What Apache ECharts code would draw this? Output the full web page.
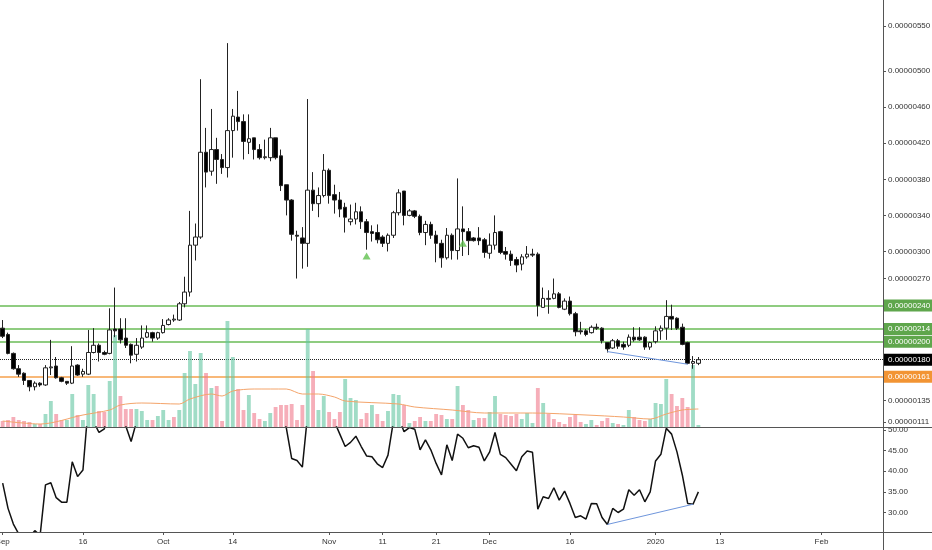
<!DOCTYPE html>
<html>
<head>
<meta charset="utf-8">
<script src="https://cdn.jsdelivr.net/npm/echarts@6/dist/echarts.min.js"></script>
<style>
html, body { margin: 0; padding: 0; background: #fff; }
#chart { width: 932px; height: 550px; }
</style>
</head>
<body>
<div id="chart"></div>
<script>
// prices in satoshi (1e-8), daily candles from 2019-09-01
var opens = [215,208,187,170,165,157,150,154,152,171, 173,160,156,154,174,164,164,188,196,188,
	187,214,214,204,197,186,194,205,210,204, 210,219,224,224,242,255,307,316,410,389,
	413,402,393,434,449,444,421,426,413,404, 404,426,406,374,357,318,315,309,368,353,
	362,390,363,357,349,333,336,344,333,322, 321,316,309,318,343,367,340,345,339,321,
	330,318,309,293,318,301,325,322,315,315, 313,298,307,322,300,297,291,286,294,297,
	297,238,248,248,253,236,245,231,212,212, 210,216,215,199,193,201,197,196,205,205,
	205,194,200,212,215,228,226,216,199,176, 176];
var highs = [224,210,188,174,166,157,156,155,174,202, 183,161,156,195,175,170,213,215,198,190,
	237,260,226,226,198,204,218,218,211,211, 225,226,230,244,272,345,331,491,437,458,
	426,408,531,458,478,452,452,426,419,424, 437,426,413,374,358,323,327,469,388,371,
	408,392,374,366,354,352,354,350,336,329, 330,318,320,345,369,367,347,346,341,334,
	333,323,313,326,320,381,350,326,316,327, 315,320,340,323,305,301,294,297,306,303,
	299,260,257,270,255,248,250,233,222,214, 218,220,216,199,203,203,200,208,216,216,
	206,200,217,218,246,241,227,220,200,184, 183];
var lows = [204,186,169,161,152,145,146,150,151,163, 159,155,152,153,162,161,163,187,178,185,
	186,205,198,193,176,178,192,204,200,202, 209,218,222,223,238,250,290,314,371,384,
	375,386,382,404,434,402,408,402,402,402, 400,402,367,340,312,270,281,283,345,338,
	360,353,342,338,321,329,330,325,302,311, 309,305,300,315,340,329,339,337,318,307,
	314,288,282,291,291,291,295,296,311,307, 293,292,302,297,291,284,277,279,292,294,
	228,238,231,247,237,235,229,206,208,206, 209,213,198,188,192,192,191,194,200,201,
	191,191,198,202,202,213,213,196,175,170, 174];
var closes = [206,187,170,164,157,150,154,152,171,172, 160,156,154,173,163,167,188,196,188,186,
	213,212,202,196,185,196,204,210,204,210, 218,224,225,242,255,307,316,410,388,413,
	402,393,434,450,444,422,425,413,404,405, 426,404,373,357,319,317,309,368,353,362,
	390,362,357,347,338,336,344,333,321,320, 313,309,318,343,365,340,345,339,321,330,
	318,309,293,318,301,325,322,312,312,312, 299,307,321,299,297,290,285,294,297,296,
	240,248,247,253,238,245,231,211,211,208, 216,215,201,192,201,195,194,205,202,202,
	194,199,212,215,228,225,215,197,176,178, 180];

// volume (relative units) and bar side u = up / d = down
var volumes = [6,7,10,7,6,5,3,3,13,26, 13,7,7,33,12,7,42,33,16,15, 46,92,31,18,18,18,16,7,7,11,
	17,7,10,17,54,76,43,74,54,39, 41,6,106,70,38,17,32,14,8,6, 14,20,22,22,23,7,22,98,56,17,
	31,15,8,15,48,29,27,8,14,22, 13,6,16,33,32,22,4,6,10,6, 6,13,12,8,8,41,22,17,7,9,
	9,15,31,13,12,11,13,8,14,4, 39,24,13,8,5,3,10,13,5,3, 7,2,6,9,4,3,2,17,10,7,
	6,8,24,23,48,33,21,29,20,62, 2];
var volSide = ('dddddduduu' + 'dduuduuudd' + 'uuddduuudu' + 'uuduuuuudu' + 'dduudduddu' +
	'uddddddudu' + 'uddduuuddu' + 'dduuududdu' + 'dddududdud' + 'duudddduuu' +
	'dudddddddu' + 'uddduduudd' + 'duuuuddddu' + 'u').split('');
// volume moving average, read at [day index, value]
var volMa = [[0,6],[7,3],[15,12],[20,17],[22,22],[26,24],[33,23],[35,28],[39,33],[41,31],[43,36],
	[47,38],[53,38],[56,33],[59,33],[62,30],[64,26],[74,23],[77,20],[84,17],[90,14],[99,14],
	[109,12],[116,10],[121,8],[124,13],[127,17],[130,18]];

var rsi = [37.1,31,27.2,24.8,23,24,25.6,24.5,36.7,37.2, 33.6,32.5,32.5,42.3,38.7,40.3,56,52,49.4,50.3,
	58,57,54,51,47.2,52,56,58,57,58, 60,62,62,66,70,76,77,82,76,78,
	74,71,76,78,76,70,70,66,64,64, 67,62,55,50.5,43.1,42.6,41,54,52,54,
	57,53,52,49,46,47,48.5,46,43.7,43.5, 41.8,40.9,43.9,52,53,49.6,50.6,50.2,45.2,47.6,
	45.2,41.9,39.1,46.4,42.6,49,48,45.7,46.2,45.8, 42.5,44.7,49.4,44.1,43.3,41.7,40.1,43.5,44.9,44.6,
	30.8,33.8,33.4,36,33,35.2,32.2,28.8,29.2,28.4, 32.2,32.1,28.8,27.1,31,30,30.8,35.5,34.2,35.5,
	32.6,35,42.5,44.1,50.4,49,44.7,39.1,32.2,32, 35];

// horizontal levels and signals
var levelValues = [240, 214, 200, 180, 161];
var levelKinds = ['g', 'g', 'g', 'k', 'o'];
var signalIdx = [68, 86];
var signalPrice = [295, 309];
var priceTrend = [[113, 189], [128, 175]];
var rsiTrend = [[113, 27.1], [129, 32]];

// axis labels
var priceTicks = [111, 135, 270, 300, 340, 380, 420, 460, 500, 550];
var rsiTicks = [30, 35, 40, 45, 50];
var tickDates = ['2019-09-01','2019-09-16','2019-10-01','2019-10-14','2019-11-01','2019-11-11',
	'2019-11-21','2019-12-01','2019-12-16','2020-01-01','2020-01-13','2020-02-01'];
var tickLabels = ['Sep','16','Oct','14','Nov','11','21','Dec','16','2020','13','Feb'];

// ------------------------------------------------ build
var dates = [];
var d0 = Date.UTC(2019, 8, 1);
for (var k = 0; k < 165; k++) {
	dates.push(new Date(d0 + k * 86400000).toISOString().slice(0, 10));
}
var candles = opens.map(function(o, i) {
	return [o, closes[i], lows[i], highs[i]];
});
var volBars = volumes.map(function(v, i) {
	return {
		value: v,
		itemStyle: {color: volSide[i] === 'u' ? 'rgba(96,196,160,0.6)' : 'rgba(240,120,138,0.6)'}
	};
});
var fmtPrice = function(v) { return (v / 1e8).toFixed(8); };

var fontName = 'Liberation Sans, Arial, sans-serif';
var axisFont = {fontSize: 8, color: '#333', fontFamily: fontName};
var priceMin = 105.4, priceMax = 578.8;

var levelColors = {g: '#8fcc80', k: '#222', o: '#f8b878'};
var boxColors = {g: '#5fa64c', k: '#000', o: '#f29433'};
// one overlay axis per level: split line across the pane plus its box on the price scale
var levelAxes = levelValues.map(function(v, i) {
	var kind = levelKinds[i];
	return {
		type: 'value', gridIndex: 0, position: 'right', min: priceMin, max: priceMax,
		axisLine: {show: false, onZero: false},
		axisTick: {show: false, customValues: [v]},
		axisLabel: {
			margin: 1, customValues: [v],
			formatter: function(val) { return fmtPrice(val); },
			color: '#fff', backgroundColor: boxColors[kind], padding: [2, 4, 2, 4],
			fontSize: 8, fontFamily: fontName
		},
		splitLine: {
			show: true,
			lineStyle: kind === 'k'
				? {color: '#222', width: 1, type: 'dotted'}
				: {color: levelColors[kind], width: 2, type: 'solid'}
		}
	};
});

var myChart = echarts.init(document.getElementById('chart'));
var option = {
	animation: false,
	backgroundColor: '#fff',
	grid: [
		{left: 0, right: 49, top: 0, height: 427, outerBoundsMode: 'none', containLabel: false},
		{left: 0, right: 49, top: 427, height: 105, outerBoundsMode: 'none', containLabel: false}
	],
	xAxis: [
		{
			type: 'category', gridIndex: 0, data: dates, boundaryGap: true,
			axisLine: {show: false}, axisTick: {show: false}, axisLabel: {show: false}, splitLine: {show: false}
		},
		{
			type: 'category', gridIndex: 1, data: dates, boundaryGap: true,
			axisLine: {show: false},
			axisTick: {
				show: true, length: 3, alignWithLabel: true, lineStyle: {color: '#555'},
				interval: function(idx, val) { return tickDates.indexOf(val) >= 0; }
			},
			axisLabel: Object.assign({
				margin: 6,
				interval: function(idx, val) { return tickDates.indexOf(val) >= 0; },
				formatter: function(val) { return tickLabels[tickDates.indexOf(val)]; }
			}, axisFont),
			splitLine: {show: false}
		}
	],
	yAxis: [
		{
			type: 'value', gridIndex: 0, position: 'right', min: priceMin, max: priceMax,
			axisLine: {show: false, onZero: false},
			axisTick: {show: true, length: 3, customValues: priceTicks, lineStyle: {color: '#555'}},
			axisLabel: Object.assign({margin: 5, customValues: priceTicks, formatter: fmtPrice}, axisFont),
			splitLine: {show: false}
		},
		{
			type: 'value', gridIndex: 0, min: 0, max: 427, show: false
		},
		{
			type: 'value', gridIndex: 1, position: 'right', min: 25.27, max: 50.73,
			axisLine: {show: false, onZero: false},
			axisTick: {show: true, length: 3, customValues: rsiTicks, lineStyle: {color: '#555'}},
			axisLabel: Object.assign({margin: 5, customValues: rsiTicks,
				formatter: function(v) { return v.toFixed(2); }}, axisFont),
			splitLine: {show: false}
		}
	].concat(levelAxes),
	series: [
		{
			name: 'Volume', type: 'bar', xAxisIndex: 0, yAxisIndex: 1,
			data: volBars, barWidth: '72%', z: 1
		},
		{
			name: 'Volume MA', type: 'line', xAxisIndex: 0, yAxisIndex: 1,
			data: volMa, symbol: 'none', smooth: 0.3, z: 2,
			lineStyle: {color: '#f4a46a', width: 1}
		},
		{
			name: 'Price', type: 'candlestick', xAxisIndex: 0, yAxisIndex: 0,
			data: candles, barWidth: 4, z: 3,
			itemStyle: {
				color: '#fff', color0: '#000',
				borderColor: '#222', borderColor0: '#222', borderWidth: 1
			},
			markLine: {
				silent: true, symbol: 'none', animation: false,
				lineStyle: {color: '#6f96dc', width: 1, type: 'solid'},
				label: {show: false},
				data: [[
					{coord: [dates[priceTrend[0][0]], priceTrend[0][1]]},
					{coord: [dates[priceTrend[1][0]], priceTrend[1][1]]}
				]]
			}
		},
		{
			name: 'Signal', type: 'scatter', xAxisIndex: 0, yAxisIndex: 0,
			data: signalIdx.map(function(i, k) { return [i, signalPrice[k]]; }),
			symbol: 'triangle', symbolSize: [8, 7], z: 20, zlevel: 1,
			itemStyle: {color: '#5fc04e'}
		},
		{
			name: 'RSI', type: 'line', xAxisIndex: 1, yAxisIndex: 2,
			data: rsi, symbol: 'none', clip: true,
			lineStyle: {color: '#111', width: 1.5},
			markLine: {
				silent: true, symbol: 'none', animation: false,
				lineStyle: {color: '#6f96dc', width: 1, type: 'solid'},
				label: {show: false},
				data: [[
					{coord: [dates[rsiTrend[0][0]], rsiTrend[0][1]]},
					{coord: [dates[rsiTrend[1][0]], rsiTrend[1][1]]}
				]]
			}
		}
	],
	graphic: [
		{type: 'line', shape: {x1: 0, y1: 427.5, x2: 932, y2: 427.5}, style: {stroke: '#555', lineWidth: 1}, z: 10},
		{type: 'line', shape: {x1: 0, y1: 532.5, x2: 932, y2: 532.5}, style: {stroke: '#555', lineWidth: 1}, z: 10},
		{type: 'line', shape: {x1: 883.5, y1: 0, x2: 883.5, y2: 550}, style: {stroke: '#555', lineWidth: 1}, z: 10}
	]
};
myChart.setOption(option);
</script>
</body>
</html>
